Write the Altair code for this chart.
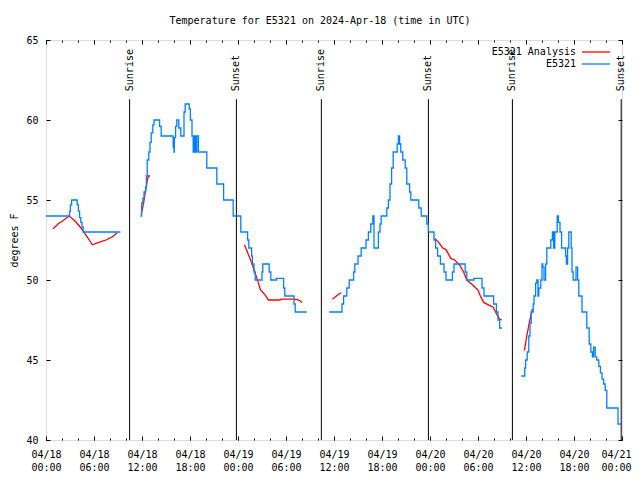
import altair as alt
import pandas as pd

# ---------------- data (hours since 2024-04-18 00:00 UTC, degrees F) ----------------
# Observed E5321 (blue) - change points, drawn as steps
obs_a_h = [0.0, 2.95, 3.05, 3.2, 3.9, 4.05, 4.2, 4.35, 4.5, 4.65, 9.3]
obs_a_t = [54.0, 54.3, 54.7, 55.0, 54.7, 54.3, 53.9, 53.6, 53.3, 53.0, 53.0]

obs_b_h = [11.8, 11.95, 12.1, 12.25, 12.45, 12.55, 12.65, 12.85, 13.0, 13.15, 13.35, 13.5,
           14.2, 14.4, 15.9, 16.0, 16.05, 16.2, 16.35, 16.6, 16.85, 17.25, 17.4, 17.9, 18.05,
           18.25, 18.4, 18.55, 18.7, 18.85, 19.05, 20.1, 21.35, 22.2, 23.4, 24.35, 25.2, 25.35,
           25.7, 25.8, 26.0, 26.15, 27.0, 27.1, 27.9, 28.1, 28.8, 29.7, 29.85, 31.0, 31.15, 32.6]
obs_b_t = [54.0, 54.8, 55.1, 55.5, 55.8, 56.5, 57.5, 58.0, 58.6, 59.2, 59.7, 60.0,
           59.6, 59.0, 58.3, 58.0, 58.9, 59.6, 60.0, 59.5, 59.0, 60.5, 61.0, 60.7, 60.0,
           59.0, 58.0, 59.0, 58.0, 59.0, 58.0, 57.0, 56.0, 55.0, 54.0, 53.0, 52.5, 52.0,
           51.5, 51.0, 50.5, 50.0, 50.5, 51.0, 50.5, 50.0, 50.1, 49.5, 49.0, 48.5, 48.0, 48.0]

obs_c_h = [35.4, 37.0, 37.2, 37.6, 37.9, 38.45, 38.6, 39.0, 39.4, 40.0, 40.3, 40.6, 40.85,
           41.0, 41.55, 41.75, 41.9, 42.6, 42.8, 43.0, 43.2, 43.4, 43.9, 44.05, 44.2, 44.35,
           44.6, 44.9, 45.1, 45.45, 45.6, 46.6, 46.9, 47.6, 47.8, 48.5, 48.7, 48.95, 49.3,
           49.75, 50.0, 50.8, 51.0, 52.4, 52.6, 53.5, 54.5, 54.75, 55.95, 56.3, 56.5, 56.7, 57.0]
obs_c_t = [48.0, 48.5, 49.0, 49.5, 50.0, 50.5, 51.0, 51.5, 52.0, 52.5, 53.0, 53.5, 54.0,
           52.0, 53.0, 53.5, 54.0, 54.5, 55.0, 56.0, 57.0, 58.0, 58.5, 59.0, 58.5, 58.0,
           57.5, 57.0, 56.0, 55.5, 55.0, 54.5, 54.0, 53.5, 53.0, 52.5, 52.0, 51.5, 51.0,
           50.5, 50.0, 50.5, 51.0, 50.5, 50.0, 50.1, 49.5, 49.0, 48.5, 48.0, 47.5, 47.0, 47.0]

obs_d_h = [59.4, 59.85, 59.95, 60.15, 60.35, 60.5, 60.65, 60.9, 61.0, 61.2, 61.35, 61.5,
           61.6, 61.85, 62.0, 62.1, 62.25, 62.45, 62.6, 63.1, 63.3, 63.45, 63.6, 63.9, 64.05,
           64.25, 64.45, 64.95, 65.05, 65.2, 65.35, 65.65, 65.75, 65.9, 66.25, 66.45, 66.6,
           67.0, 67.6, 67.9, 68.1, 68.3, 68.45, 68.65, 68.85, 69.1, 69.3, 69.5, 69.7, 69.9,
           70.1, 71.5, 71.9]
obs_d_t = [44.0, 44.5, 45.0, 45.5, 46.5, 47.3, 48.0, 48.5, 49.0, 49.8, 50.0, 49.0,
           49.5, 50.0, 51.0, 50.8, 50.0, 51.0, 52.0, 52.5, 53.0, 52.0, 53.0, 54.0, 53.6,
           53.0, 52.0, 51.5, 51.0, 52.0, 53.0, 52.0, 50.5, 50.0, 50.8, 50.0, 49.0,
           48.0, 47.0, 46.0, 45.5, 45.2, 45.8, 45.2, 45.0, 44.6, 44.2, 43.8, 43.5, 43.1,
           42.0, 41.0, 41.0]

# E5321 Analysis (red)
ana_a_h = [0.9, 1.5, 2.1, 2.9, 3.6, 4.3, 5.0, 5.8, 6.6, 7.5, 8.3, 8.9]
ana_a_t = [53.2, 53.5, 53.7, 54.0, 53.7, 53.3, 52.8, 52.2, 52.35, 52.5, 52.7, 52.95]
ana_b_h = [11.9, 12.2, 12.45, 12.7, 12.8, 13.0]
ana_b_t = [54.1, 54.8, 55.6, 56.3, 56.5, 56.5]
ana_c_h = [24.8, 25.5, 26.1, 26.5, 26.8, 27.4, 27.8, 29.25, 29.4, 31.1, 31.6, 32.0]
ana_c_t = [52.2, 51.35, 50.5, 49.9, 49.4, 49.06, 48.75, 48.75, 48.8, 48.8, 48.75, 48.6]
ana_d_h = [35.8, 36.3, 36.9]
ana_d_t = [48.8, 49.0, 49.2]
ana_e_h = [48.6, 49.0, 49.6, 50.0, 50.6, 51.1, 51.75, 52.2, 52.6, 53.2, 54.0, 54.3, 54.7,
           55.3, 55.9, 56.4, 56.7, 57.0]
ana_e_t = [52.6, 52.4, 52.0, 51.9, 51.35, 51.25, 50.9, 50.5, 50.0, 49.75, 49.37, 49.0, 48.6,
           48.45, 48.3, 47.8, 47.55, 47.5]
ana_f_h = [59.8, 60.1, 60.4, 60.8]
ana_f_t = [45.6, 46.5, 47.3, 48.2]

sun_hours = [10.45, 23.8, 34.42, 47.8, 58.3, 71.9]
sun_labels = ["Sunrise", "Sunset", "Sunrise", "Sunset", "Sunrise", "Sunset"]

series_names = ["E5321 Analysis", "E5321"]
series_colors = ["#ff0000", "#0080ff"]

x_major = list(range(0, 73, 6))
x_minor = list(range(0, 73, 2))
y_major = list(range(40, 66, 5))

# ---------------- tables ----------------
def build(segs, name):
    rows = []
    for i, (hs, ts) in enumerate(segs):
        for h, t in zip(hs, ts):
            rows.append({"hour": h, "temp": t, "seg": f"{name}-{i}", "series": name})
    return pd.DataFrame(rows)

obs = build([(obs_a_h, obs_a_t), (obs_b_h, obs_b_t), (obs_c_h, obs_c_t), (obs_d_h, obs_d_t)], "E5321")
ana = build([(ana_a_h, ana_a_t), (ana_b_h, ana_b_t), (ana_c_h, ana_c_t), (ana_d_h, ana_d_t),
             (ana_e_h, ana_e_t), (ana_f_h, ana_f_t)], "E5321 Analysis")
sun = pd.DataFrame({"hour": sun_hours, "label": sun_labels})

FONT = "DejaVu Sans Mono"
xscale = alt.Scale(domain=[0, 72], nice=False, zero=False)
yscale = alt.Scale(domain=[40, 65], nice=False, zero=False)

label_expr = ("['04/' + (18 + floor(datum.value / 24)), "
              "(datum.value % 24 < 10 ? '0' : '') + (datum.value % 24) + ':00']")

def tick_axis(orient, values, size, **kw):
    return alt.Axis(orient=orient, values=values, offset=-size, tickSize=size, labels=False,
                    domain=False, grid=False, title=None, tickColor="black", **kw)

ax_x_lab = alt.Axis(orient="bottom", values=x_major, offset=-4, tickSize=4, tickColor="black",
                    domain=False, grid=False, title=None, labelExpr=label_expr, labelPadding=9,
                    labelLineHeight=13, labelFontSize=10, labelFont=FONT, labelColor="black",
                    labelAngle=0, labelOverlap=False, labelFlush=False,
                    labelOffset={"expr": "datum.value >= 72 ? -6 : 0"})
ax_y_lab = alt.Axis(orient="left", values=y_major, offset=-4, tickSize=4, tickColor="black",
                    domain=False, grid=False, title="degrees F", titlePadding=6,
                    titleFontWeight="normal", titleFontSize=10, titleFont=FONT, titleColor="black",
                    labelPadding=8, labelFontSize=10, labelFont=FONT, labelColor="black",
                    labelFlush=False, labelOverlap=False)

color = alt.Color("series:N",
                  scale=alt.Scale(domain=series_names, range=series_colors),
                  legend=alt.Legend(orient="none", legendX=544, legendY=6, title=None,
                                    symbolType="M-2.8,0H2.8", symbolSize=100,
                                    symbolStrokeWidth=1.3, symbolFillColor="transparent",
                                    labelAlign="right", labelOffset={"expr": "-26"},
                                    labelFontSize=10, labelFont=FONT, labelColor="black",
                                    padding=0, rowPadding=1, symbolOffset=0))

obs_line = alt.Chart(obs).mark_line(interpolate="step-after", strokeWidth=1.3).encode(
    x=alt.X("hour:Q", scale=xscale, axis=ax_x_lab),
    y=alt.Y("temp:Q", scale=yscale, axis=ax_y_lab),
    color=color,
    detail="seg:N",
)

ana_line = alt.Chart(ana).mark_line(strokeWidth=1.3).encode(
    x=alt.X("hour:Q", scale=xscale, axis=tick_axis("top", x_major, 4)),
    y=alt.Y("temp:Q", scale=yscale, axis=tick_axis("right", y_major, 4)),
    color=color,
    detail="seg:N",
)

sun_rule = alt.Chart(sun).mark_rule(color="black", strokeWidth=1).encode(
    x=alt.X("hour:Q", scale=xscale, axis=tick_axis("bottom", x_minor, 2)),
    y=alt.datum(61.3, scale=yscale, axis=None),
    y2=alt.datum(40),
)

sun_text = alt.Chart(sun).mark_text(angle=270, align="left", baseline="middle",
                                    fontSize=10, font=FONT, color="black").encode(
    x=alt.X("hour:Q", scale=xscale, axis=tick_axis("top", x_minor, 2)),
    y=alt.datum(61.8, scale=yscale, axis=None),
    text="label:N",
)

chart = alt.layer(sun_rule, sun_text, ana_line, obs_line).resolve_axis(
    x="independent", y="independent"
).properties(
    width=576, height=400,
    title=alt.Title("Temperature for E5321 on 2024-Apr-18 (time in UTC)", fontSize=10,
                    font=FONT, fontWeight="normal", color="black", offset=9, dx=-14),
    autosize=alt.AutoSizeParams(type="none"),
    padding={"left": 38, "top": 32, "right": 10, "bottom": 32},
).configure_view(stroke="black", strokeWidth=1).configure(font=FONT)

chart.save("out.html", embed_options={"renderer": "svg", "actions": False})
